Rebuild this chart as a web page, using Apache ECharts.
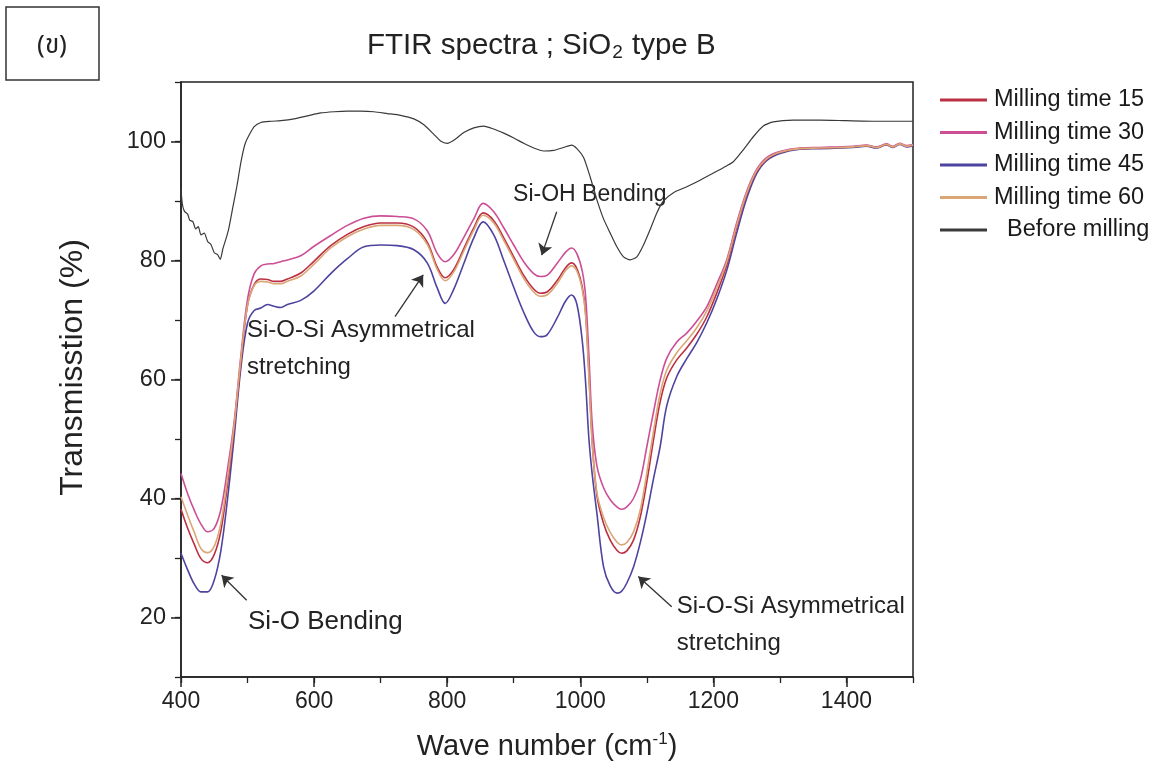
<!DOCTYPE html>
<html><head><meta charset="utf-8">
<script src="https://cdn.jsdelivr.net/npm/echarts@6/dist/echarts.min.js"></script>
<style>html,body{margin:0;padding:0;background:#fff}#c{width:1155px;height:773px}</style>
</head><body><div id="c"></div>
<script>
// ---- data ----
const wnMilled = [400,410,420,430,440,450,460,470,480,490,
  500,510,520,530,540,550,560,580,600,625,
  650,675,700,725,750,770,785,797,810,825,
  840,854,870,885,900,915,930,940,950,965,
  978,987,995,1003,1008,1013,1018,1025,1035,1045,
  1055,1062,1070,1080,1090,1100,1110,1120,1130,1145,
  1160,1175,1190,1205,1220,1235,1250,1265,1280,1300,
  1330,1360,1390,1410,1430,1445,1460,1470,1480,1490,1500];
const mill15 = [38.2,35.0,32.3,29.9,29.2,30.6,34.6,42.5,52.0,63.0,
  72.5,76.0,76.9,76.8,76.5,76.5,76.9,77.9,79.9,82.5,
  84.4,85.7,86.3,86.3,85.6,83.1,78.9,77.1,78.5,82.0,
  85.5,88.0,86.7,83.8,80.6,77.5,75.2,74.5,74.7,76.6,
  78.8,79.6,78.6,75.5,71.2,61.0,49.5,40.5,35.8,33.0,
  31.3,30.8,31.2,33.0,36.8,42.8,49.8,56.2,60.3,63.3,
  65.3,67.6,70.5,74.5,79.2,85.6,91.1,95.0,97.0,98.2,
  98.8,98.9,99.0,99.1,99.3,99.0,99.5,99.1,99.6,99.2,99.4];
const mill30 = [44.2,40.8,38.0,35.7,34.4,35.0,38.2,45.0,53.0,64.0,
  73.5,77.8,79.1,79.4,79.5,79.8,80.1,80.8,82.4,84.2,
  85.9,87.1,87.5,87.4,87.0,85.0,81.2,79.8,81.0,83.9,
  87.0,89.6,88.2,85.5,82.6,79.8,77.8,77.3,77.5,79.5,
  81.4,82.1,81.1,78.2,74.0,64.0,52.5,45.5,41.8,39.8,
  38.6,38.2,38.6,40.0,43.0,48.7,54.5,59.9,63.6,66.3,
  67.8,69.8,72.2,76.0,80.1,86.3,91.6,95.3,97.3,98.3,
  98.9,99.0,99.1,99.2,99.4,99.1,99.6,99.2,99.7,99.3,99.5];
const mill45 = [30.8,28.0,25.6,24.3,24.3,26.3,31.3,40.0,50.5,62.0,
  69.5,71.6,72.0,72.6,72.3,72.1,72.6,73.3,74.9,77.8,
  80.3,82.3,82.6,82.5,81.8,79.6,75.4,72.8,75.2,79.5,
  83.8,86.5,84.3,80.0,75.5,71.3,68.0,67.2,67.5,70.3,
  73.2,74.2,72.6,66.5,59.5,50.0,44.0,37.5,28.5,25.3,
  24.1,24.4,25.8,28.5,32.5,37.5,43.3,48.7,55.6,60.5,
  63.5,66.2,69.5,73.5,78.3,84.6,90.4,94.6,96.8,98.0,
  98.7,98.8,98.9,99.0,99.2,98.9,99.4,99.0,99.5,99.1,99.3];
const mill60 = [40.3,37.2,34.3,31.6,30.9,32.0,35.9,43.5,52.5,63.5,
  72.5,75.8,76.5,76.4,76.1,76.1,76.5,77.4,79.4,82.1,
  84.0,85.3,85.9,85.9,85.2,82.7,78.5,76.6,78.1,81.6,
  85.1,87.6,86.3,83.4,80.2,77.0,74.7,74.0,74.2,76.1,
  78.3,79.1,78.2,75.1,70.8,60.5,49.2,41.0,36.8,34.3,
  32.7,32.2,32.6,34.4,38.0,44.3,51.3,57.6,61.6,64.5,
  66.5,68.7,71.5,75.3,79.7,85.9,91.3,95.1,97.1,98.2,
  98.8,98.9,99.0,99.1,99.3,99.0,99.5,99.1,99.6,99.2,99.4];

const wnBefore = [400,402,405,410,413,418,422,426,430,435,
  440,445,450,455,459,463,468,472,478,484,
  490,496,502,510,520,535,550,570,590,610,
  630,650,670,690,710,730,750,765,780,790,
  800,810,825,840,855,870,885,900,915,930,
  945,960,975,987,995,1005,1015,1025,1035,1045,
  1055,1065,1075,1085,1095,1105,1115,1125,1140,1160,
  1180,1200,1215,1230,1245,1260,1275,1290,1320,1360,
  1400,1450,1500];
const beforeMilling = [92.0,89.5,88.3,87.8,86.8,86.5,85.3,85.7,84.3,84.6,
  83.2,82.7,81.3,81.0,80.2,82.0,83.8,85.5,89.0,92.5,
  96.5,99.5,101.0,102.5,103.2,103.4,103.5,103.8,104.3,104.8,
  105.0,105.1,105.1,105.0,104.7,104.4,103.8,102.8,101.2,100.1,
  99.7,100.2,101.5,102.3,102.6,102.1,101.4,100.6,99.7,98.9,
  98.4,98.5,99.0,99.4,98.8,97.3,94.0,90.2,87.0,84.6,
  82.3,80.6,80.1,80.6,82.6,85.2,88.0,90.0,91.4,92.4,
  93.5,94.7,95.6,96.6,98.6,100.8,102.6,103.3,103.6,103.6,
  103.5,103.4,103.4];

const xTicks = [400,600,800,1000,1200,1400];
const yTicks = [20,40,60,80,100];

const seriesNames = ['Milling time 15','Milling time 30','Milling time 45','Milling time 60','Before milling'];
const seriesColors = ['#bb3043','#cc4f96','#4d44a0','#dba676','#3a3a3a'];

const annoTexts = [
  {text:'Si-OH Bending', x:899, y:91.0, size:23},
  {text:'Si-O-Si Asymmetrical', x:499, y:68.2, size:24},
  {text:'stretching', x:499, y:62.1, size:24},
  {text:'Si-O Bending', x:500.7, y:19.2, size:26},
  {text:'Si-O-Si Asymmetrical', x:1145, y:21.9, size:24},
  {text:'stretching', x:1145, y:15.7, size:24}
];
const annoArrows = [
  [[964.6,88.2],[942,80.9]],
  [[721.6,70.55],[764,77.6]],
  [[498.7,22.9],[461,27.1]],
  [[1137.4,21.8],[1087.2,26.9]]
];

// ---- chart ----
const FONT = '"Liberation Sans", Arial, "DejaVu Sans", sans-serif';
const chart = echarts.init(document.getElementById('c'), null, {renderer:'canvas', width:1155, height:773});
const pair = (xs, ys) => xs.map((x,i)=>[x, ys[i]]);
const milled = [mill15, mill30, mill45, mill60];

const series = milled.map((arr,i)=>({
  name: seriesNames[i], type:'line', data: pair(wnMilled, arr),
  showSymbol:false, symbol:'none', smooth:0.35,
  lineStyle:{color:seriesColors[i], width:1.6}, itemStyle:{color:seriesColors[i]},
  z: i===2 ? 3 : 4, animation:false
}));
series.push({
  name: seriesNames[4], type:'line', data: pair(wnBefore, beforeMilling),
  showSymbol:false, symbol:'none', smooth:0.2,
  lineStyle:{color:seriesColors[4], width:1.2}, itemStyle:{color:seriesColors[4]},
  animation:false,
  markLine:{
    silent:true, symbol:['none','arrow'], symbolSize:11, animation:false,
    label:{show:false},
    lineStyle:{color:'#333', width:1.3, type:'solid'},
    itemStyle:{color:'#333'},
    emphasis:{disabled:true},
    data: annoArrows.map(a=>[{coord:a[0]},{coord:a[1]}])
  }
});

const axisTextColor = '#222';
chart.setOption({
  backgroundColor:'#fff',
  animation:false,
  title:{
    text:'{a|FTIR spectra ; SiO}{s|2}{a| type B}',
    left:362, top:24,
    textStyle:{fontWeight:'normal', rich:{
      a:{fontSize:29.5, fontFamily:FONT, fontWeight:'normal', color:'#222', lineHeight:34},
      s:{fontSize:19, fontFamily:FONT, fontWeight:'normal', color:'#222', lineHeight:34, padding:[14,1,0,1]}
    }}
  },
  legend:{
    orient:'vertical', left:935, top:82,
    itemWidth:47, itemHeight:3, itemGap:6.5, icon:'rect',
    data: seriesNames,
    formatter: n => n === 'Before milling' ? '  ' + n : n,
    textStyle:{fontSize:23.5, fontFamily:FONT, color:'#1a1a1a', lineHeight:26, padding:[0,0,0,2]}
  },
  grid:{left:181, right:242, top:82, bottom:96, show:true, borderColor:'#222', borderWidth:1.5, backgroundColor:'transparent'},
  xAxis:[{
    type:'value', min:400, max:1500, position:'bottom',
    name:'{a|Wave number (cm}{s|-1}{a|)}', nameLocation:'middle', nameGap:54,
    nameTextStyle:{rich:{
      a:{fontSize:29, fontFamily:FONT, color:'#222'},
      s:{fontSize:17, fontFamily:FONT, color:'#222', padding:[0,0,14,0]}
    }},
    axisLine:{show:true, lineStyle:{color:'#222', width:1.5}},
    axisTick:{show:true, length:10, customValues:xTicks, lineStyle:{color:'#222', width:1.5}},
    axisLabel:{customValues:xTicks, formatter: v => String(v), fontSize:23, fontFamily:FONT, color:axisTextColor, margin:13},
    splitLine:{show:false}
  },{
    type:'value', min:400, max:1500, interval:100, position:'bottom',
    axisLine:{show:false}, axisLabel:{show:false}, splitLine:{show:false},
    axisTick:{show:true, length:6, lineStyle:{color:'#222', width:1.3}}
  }],
  yAxis:[{
    type:'value', min:10, max:110, position:'left',
    name:'Transmisstion (%)', nameLocation:'middle', nameGap:92,
    nameTextStyle:{fontSize:32, fontFamily:FONT, color:'#222', padding:[0,0,0,24]},
    axisLine:{show:true, lineStyle:{color:'#222', width:1.5}},
    axisTick:{show:true, length:10, customValues:yTicks, lineStyle:{color:'#222', width:1.5}},
    axisLabel:{customValues:yTicks, formatter: v => String(v), fontSize:23.5, fontFamily:FONT, color:axisTextColor, margin:15},
    splitLine:{show:false}
  },{
    type:'value', min:10, max:110, interval:10, position:'left',
    axisLine:{show:false}, axisLabel:{show:false}, splitLine:{show:false},
    axisTick:{show:true, length:6, lineStyle:{color:'#222', width:1.3}}
  }],
  series: series.map((s)=>Object.assign(s,{xAxisIndex:0, yAxisIndex:0}))
});

// annotations text + label box, placed through the axes' own conversion
const gfx = [
  {type:'rect', shape:{x:6, y:7, width:93, height:73}, style:{fill:'none', stroke:'#333', lineWidth:1.5}},
  {type:'text', x:52, y:48, style:{text:'(ข)', fontSize:26, fontFamily:'"Noto Sans Thai","Noto Serif Thai","Loma","Norasi","Garuda","DejaVu Serif",serif', fill:'#222', align:'center', verticalAlign:'middle'}}
];
annoTexts.forEach(t=>{
  const p = chart.convertToPixel({xAxisIndex:0, yAxisIndex:0}, [t.x, t.y]);
  gfx.push({type:'text', x:p[0], y:p[1], style:{text:t.text, fontSize:t.size, fontFamily:FONT, fill:'#222', align:'left', verticalAlign:'middle'}});
});
chart.setOption({graphic:{elements:gfx}});
</script></body></html>
